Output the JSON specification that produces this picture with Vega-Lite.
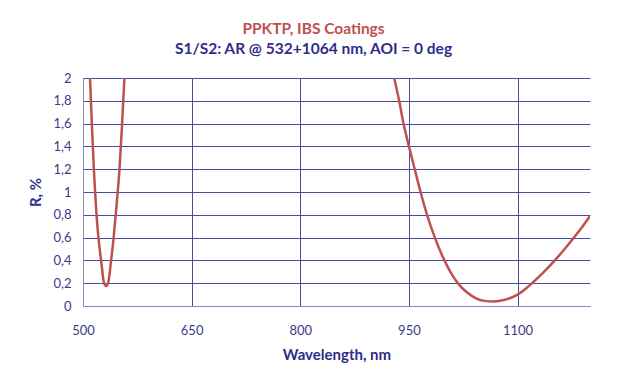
{
  "$schema": "https://vega.github.io/schema/vega-lite/v6.json",
  "autosize": "none",
  "width": 507,
  "height": 228,
  "padding": {"left": 83, "top": 78, "right": 37, "bottom": 80},
  "background": "white",
  "title": {
    "text": "PPKTP, IBS Coatings",
    "subtitle": "S1/S2: AR @ 532+1064 nm, AOI = 0 deg",
    "anchor": "middle",
    "dx": -23,
    "offset": 15,
    "font": "Lato",
    "fontSize": 15.5,
    "fontWeight": "bold",
    "color": "#C0504D",
    "subtitleFont": "Lato",
    "subtitleFontSize": 15.5,
    "subtitleFontWeight": "bold",
    "subtitleColor": "#2E2E8A",
    "subtitlePadding": 4
  },
  "data": {
    "values": [
      {"seg": "a", "wl": 509.7, "r": 2.0},
      {"seg": "a", "wl": 512.2, "r": 1.6},
      {"seg": "a", "wl": 515.0, "r": 1.2},
      {"seg": "a", "wl": 516.7, "r": 1.0},
      {"seg": "a", "wl": 518.7, "r": 0.8},
      {"seg": "a", "wl": 521.3, "r": 0.6},
      {"seg": "a", "wl": 525.0, "r": 0.4},
      {"seg": "a", "wl": 529.1, "r": 0.2},
      {"seg": "a", "wl": 531.7, "r": 0.175},
      {"seg": "a", "wl": 534.6, "r": 0.2},
      {"seg": "a", "wl": 538.8, "r": 0.4},
      {"seg": "a", "wl": 542.3, "r": 0.6},
      {"seg": "a", "wl": 545.2, "r": 0.8},
      {"seg": "a", "wl": 547.9, "r": 1.0},
      {"seg": "a", "wl": 550.4, "r": 1.2},
      {"seg": "a", "wl": 554.0, "r": 1.6},
      {"seg": "a", "wl": 557.2, "r": 2.0},
      {"seg": "b", "wl": 929.6, "r": 2.0},
      {"seg": "b", "wl": 936.5, "r": 1.8},
      {"seg": "b", "wl": 942.5, "r": 1.6},
      {"seg": "b", "wl": 950.0, "r": 1.4},
      {"seg": "b", "wl": 958.0, "r": 1.2},
      {"seg": "b", "wl": 966.0, "r": 1.0},
      {"seg": "b", "wl": 975.0, "r": 0.8},
      {"seg": "b", "wl": 985.8, "r": 0.6},
      {"seg": "b", "wl": 999.0, "r": 0.4},
      {"seg": "b", "wl": 1008.0, "r": 0.29},
      {"seg": "b", "wl": 1017.5, "r": 0.2},
      {"seg": "b", "wl": 1030.0, "r": 0.12},
      {"seg": "b", "wl": 1042.0, "r": 0.07},
      {"seg": "b", "wl": 1054.0, "r": 0.045},
      {"seg": "b", "wl": 1066.0, "r": 0.04},
      {"seg": "b", "wl": 1078.0, "r": 0.048},
      {"seg": "b", "wl": 1090.0, "r": 0.07},
      {"seg": "b", "wl": 1100.0, "r": 0.1},
      {"seg": "b", "wl": 1110.0, "r": 0.145},
      {"seg": "b", "wl": 1120.0, "r": 0.2},
      {"seg": "b", "wl": 1135.0, "r": 0.29},
      {"seg": "b", "wl": 1151.4, "r": 0.4},
      {"seg": "b", "wl": 1165.0, "r": 0.5},
      {"seg": "b", "wl": 1179.0, "r": 0.61},
      {"seg": "b", "wl": 1190.0, "r": 0.7},
      {"seg": "b", "wl": 1200.0, "r": 0.79}
    ]
  },
  "mark": {"type": "line", "color": "#C0504D", "strokeWidth": 2.5, "clip": true, "interpolate": "monotone"},
  "encoding": {
    "x": {
      "field": "wl",
      "type": "quantitative",
      "scale": {"domain": [500, 1200], "nice": false, "zero": false},
      "axis": {
        "values": [500, 650, 800, 950, 1100],
        "format": "d",
        "labelFlush": false,
        "title": "Wavelength, nm",
        "titleFont": "Lato",
        "titleFontSize": 15,
        "titleFontWeight": "bold",
        "titleColor": "#2E2E8A",
        "titlePadding": 10,
        "labelFont": "Lato",
        "labelFontSize": 13,
        "labelColor": "#3B3B8C",
        "labelPadding": 18,
        "ticks": false,
        "domainColor": "#8A8AB8",
        "gridColor": "#4A4A9E",
        "gridOpacity": 1
      }
    },
    "y": {
      "field": "r",
      "type": "quantitative",
      "scale": {"domain": [0, 2], "nice": false},
      "axis": {
        "values": [0, 0.2, 0.4, 0.6, 0.8, 1, 1.2, 1.4, 1.6, 1.8, 2],
        "format": "~g",
        "labelFlush": false,
        "labelExpr": "replace(datum.label, '.', ',')",
        "title": "R, %",
        "titleFont": "Lato",
        "titleFontSize": 15,
        "titleFontWeight": "bold",
        "titleColor": "#2E2E8A",
        "titlePadding": 9,
        "labelFont": "Lato",
        "labelFontSize": 13,
        "labelColor": "#3B3B8C",
        "labelPadding": 12,
        "ticks": false,
        "domainColor": "#8A8AB8",
        "gridColor": "#4A4A9E",
        "gridOpacity": 1
      }
    },
    "detail": {"field": "seg"}
  },
  "config": {"view": {"stroke": null}}
}
